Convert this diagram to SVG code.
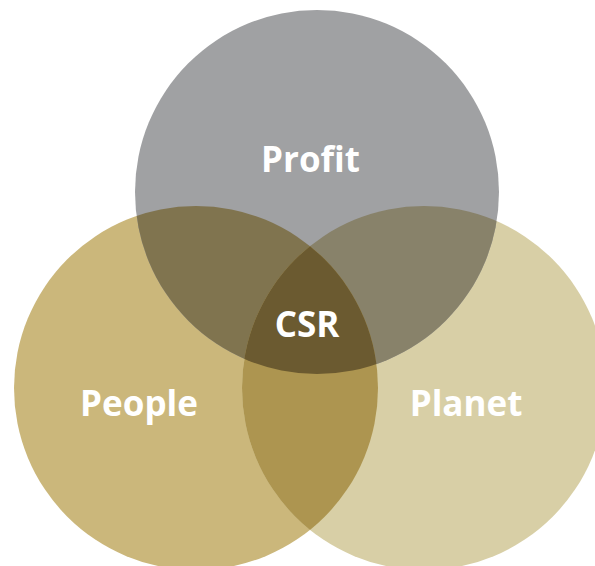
<svg xmlns="http://www.w3.org/2000/svg" width="595" height="566" viewBox="0 0 595 566">
<style>
.lbl{font-family:"Open Sans","Liberation Sans",sans-serif;font-weight:bold;font-size:35px;fill:#ffffff;text-anchor:middle}
</style>
<defs>
<clipPath id="cT"><circle cx="317" cy="192" r="182"/></clipPath>
<clipPath id="cL"><circle cx="196" cy="388" r="182"/></clipPath>
<clipPath id="cR"><circle cx="424" cy="388" r="182"/></clipPath>
</defs>
<rect width="595" height="566" fill="#ffffff"/>
<g id="people"><circle cx="196" cy="388" r="182" fill="#cbb77b"/></g>
<g id="planet"><circle cx="424" cy="388" r="182" fill="#d8cfa6"/></g>
<g id="profit"><circle cx="317" cy="192" r="182" fill="#a0a1a3"/></g>
<g id="overlaps">
<circle cx="196" cy="388" r="182" fill="#80744f" clip-path="url(#cT)"/>
<circle cx="424" cy="388" r="182" fill="#88826a" clip-path="url(#cT)"/>
<circle cx="424" cy="388" r="182" fill="#ad9550" clip-path="url(#cL)"/>
<g clip-path="url(#cT)"><circle cx="424" cy="388" r="182" fill="#6b5a30" clip-path="url(#cL)"/></g>
</g>
<g id="labels">
<text class="lbl" x="310.5" y="172">Profit</text>
<text class="lbl" x="139" y="416">People</text>
<text class="lbl" x="466" y="416">Planet</text>
<text class="lbl" x="307" y="337">CSR</text>
</g>
</svg>
